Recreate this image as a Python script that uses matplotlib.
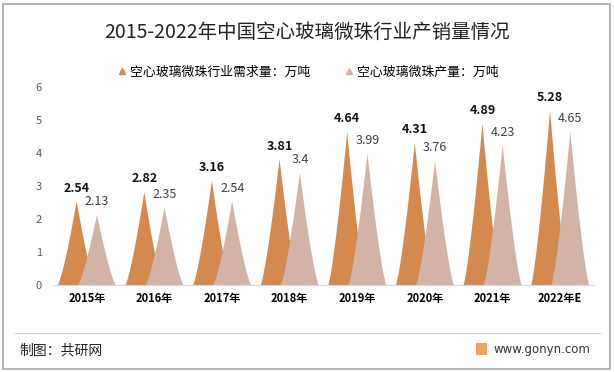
import numpy as np
import matplotlib
matplotlib.use('Agg')
import matplotlib.pyplot as plt
from matplotlib.patches import Polygon, Rectangle
from matplotlib.lines import Line2D

plt.rcParams['font.family'] = ['Noto Sans CJK SC', 'DejaVu Sans']

years = ['2015年', '2016年', '2017年', '2018年', '2019年', '2020年', '2021年', '2022年E']
demand = [2.54, 2.82, 3.16, 3.81, 4.64, 4.31, 4.89, 5.28]
output = [2.13, 2.35, 2.54, 3.4, 3.99, 3.76, 4.23, 4.65]

demand_name = '空心玻璃微珠行业需求量：万吨'
output_name = '空心玻璃微珠产量：万吨'

c_demand = '#D4894F'
c_output = '#D2B3A8'


def spike(ax, x0, h, w, color, k=1.3):
    # concave "spike" shape like the excel picture bars
    s = np.linspace(0, 1, 80)
    ys = h * (1 - s) ** k
    xs = np.concatenate([(x0 - w * s)[::-1], x0 + w * s])
    yy = np.concatenate([ys[::-1], ys])
    ax.add_patch(Polygon(np.column_stack([xs, yy]), closed=True,
                         facecolor=color, edgecolor='none'))


fig = plt.figure(figsize=(6.14, 3.72), dpi=100)
ax = fig.add_axes([53 / 614, 87 / 372, 541 / 614, 198 / 372])

x = np.arange(len(years))
off = 0.15
for i in x:
    spike(ax, i - off, demand[i], 0.28, c_demand)
    spike(ax, i + off, output[i], 0.28, c_output)
    ax.text(i - off, demand[i] + 0.2, f'{demand[i]:g}', ha='center', va='bottom',
            fontsize=9, fontweight='bold', color='#111111')
    ax.text(i + off, output[i] + 0.2, f'{output[i]:g}', ha='center', va='bottom',
            fontsize=9, color='#404040')

ax.set_xlim(-0.5, len(years) - 0.5)
ax.set_ylim(0, 6)
ax.set_xticks(x)
ax.set_xticklabels(years, fontsize=8, fontweight='bold')
ax.set_yticks(range(7))
ax.tick_params(axis='y', length=0, labelsize=8, labelcolor='#595959', pad=8)
ax.tick_params(axis='x', length=0, pad=5)
for s in ['top', 'right', 'left']:
    ax.spines[s].set_visible(False)
ax.spines['bottom'].set_color('#D9D9D9')

fig.text(0.5, 1 - 32 / 372, '2015-2022年中国空心玻璃微珠行业产销量情况', ha='center', va='center',
         fontsize=14, color='#222222')

handles = [Line2D([], [], marker='^', linestyle='none', color=c_demand, markersize=5),
           Line2D([], [], marker='^', linestyle='none', color=c_output, markersize=5)]
fig.legend(handles, [demand_name, output_name], loc='center', ncol=2,
           bbox_to_anchor=(0.5, 1 - 72 / 372), frameon=False, fontsize=9.3,
           handletextpad=0.1, columnspacing=2.5, handlelength=1)

# footer
fig.add_artist(Line2D([15 / 614, 600 / 614], [1 - 333 / 372] * 2,
                      color='#D0D0D0', lw=0.8, transform=fig.transFigure))
fig.text(19 / 614, 1 - 350 / 372, '制图：共研网', fontsize=10, va='center', color='#222222')
fig.text(590 / 614, 1 - 349 / 372, 'www.gonyn.com', fontsize=8.5, va='center', ha='right',
         color='#333333', family='DejaVu Sans')
fig.add_artist(Rectangle((476 / 614, 1 - 355 / 372), 11 / 614, 12 / 372,
                         facecolor='#F2A25C', edgecolor='none', transform=fig.transFigure))

# outer border
fig.add_artist(Rectangle((3 / 614, 3 / 372), 607 / 614, 365 / 372, fill=False,
                         edgecolor='#A6A6A6', lw=1.2, transform=fig.transFigure))

fig.savefig('out.png', dpi=100)
